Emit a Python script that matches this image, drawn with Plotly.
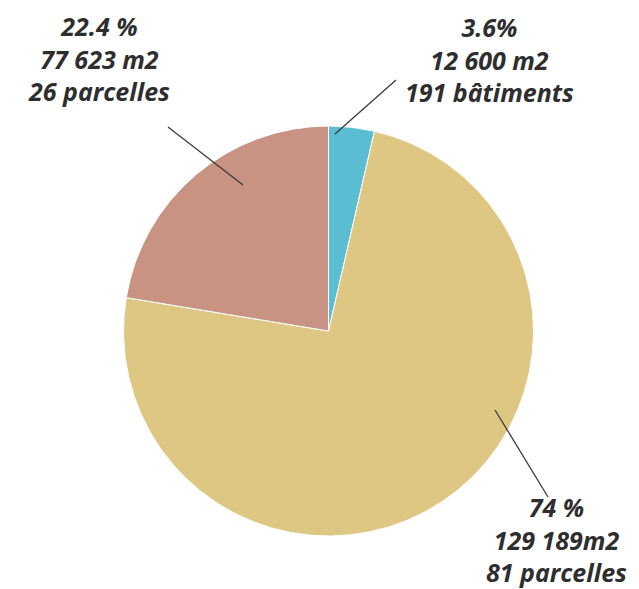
import plotly.graph_objects as go

# Share of each land-use category (percent) and the figures shown beside each slice
categories = ["Bâtiments", "Parcelles (74 %)", "Parcelles (22.4 %)"]
shares = [3.6, 74.0, 22.4]
pct_labels = ["3.6%", "74 %", "22.4 %"]
area_labels = ["12 600 m2", "129 189m2", "77 623 m2"]
count_labels = ["191 bâtiments", "81 parcelles", "26 parcelles"]

colors = ["#5bbdd2", "#dec783", "#c89383"]

W, H = 639, 589
cx, cy, r = 328.5, 331, 205


def px(x):
    return x / W


def py(y):
    return 1 - y / H


fig = go.Figure(
    go.Pie(
        labels=categories,
        values=shares,
        sort=False,
        direction="clockwise",
        rotation=0,
        textinfo="none",
        hoverinfo="label+percent",
        marker=dict(colors=colors, line=dict(color="white", width=1)),
        domain=dict(x=[px(cx - r), px(cx + r)], y=[py(cy + r), py(cy - r)]),
        showlegend=False,
    )
)

# Centre of each three-line text block
label_pos = [
    (489, 60),
    (556, 539),
    (99, 58),
]
# Leader lines: (x0, y0) near the text, (x1, y1) inside the slice
leaders = [
    (396, 80, 335, 134),
    (548, 497, 495, 410),
    (168, 127, 243, 185),
]

font = dict(family="Open Sans", size=25, color="#2e2e2e", weight="bold", style="italic")

annotations = []
for i in range(len(shares)):
    x, y = label_pos[i]
    text = "<br>".join([pct_labels[i], area_labels[i], count_labels[i]])
    annotations.append(
        dict(
            x=px(x), y=py(y), xref="paper", yref="paper",
            text=text, showarrow=False, font=font, align="center",
            xanchor="center", yanchor="middle",
        )
    )

shapes = []
for x0, y0, x1, y1 in leaders:
    shapes.append(
        dict(
            type="line", xref="paper", yref="paper",
            x0=px(x0), y0=py(y0), x1=px(x1), y1=py(y1),
            line=dict(color="#3a3a3a", width=1.3),
        )
    )

fig.update_layout(
    width=W, height=H,
    margin=dict(l=0, r=0, t=0, b=0),
    paper_bgcolor="white",
    plot_bgcolor="white",
    annotations=annotations,
    shapes=shapes,
)

fig.write_html("out.html")
